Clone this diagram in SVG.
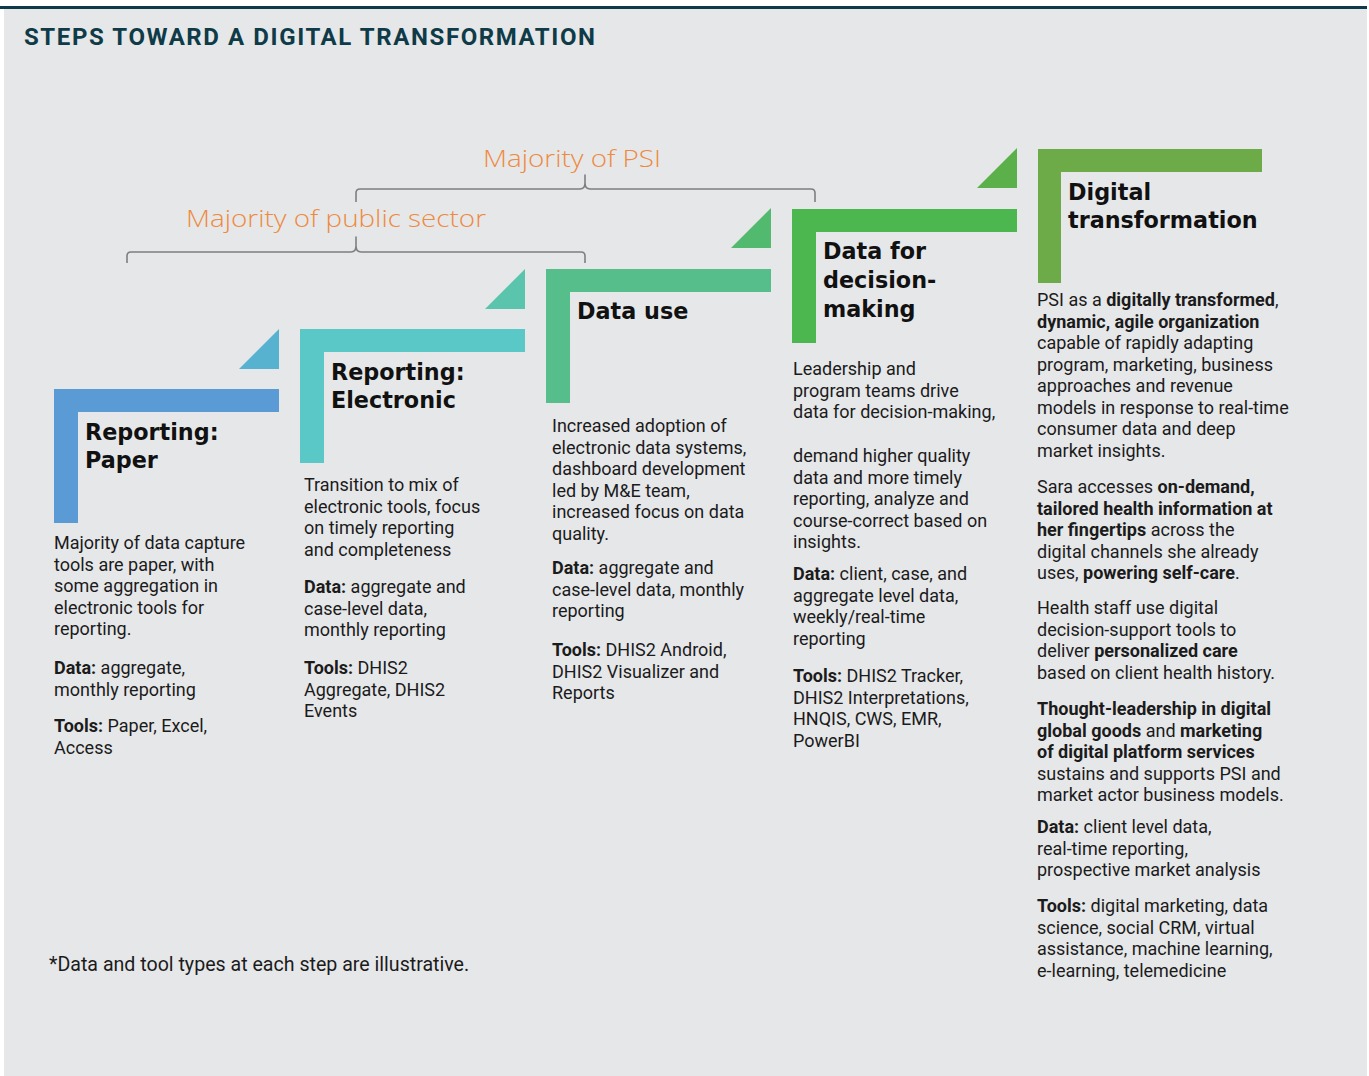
<svg xmlns="http://www.w3.org/2000/svg" width="1369" height="1076" viewBox="0 0 1369 1076">
  <style>
    .panel { fill: #E6E7E9; }
    .head { font-family: Roboto, "Liberation Sans", sans-serif; font-weight: 700; font-size: 24px; fill: #0E3B47; }
    .span-label { font-family: "Open Sans", "Liberation Sans", sans-serif; font-weight: 300; font-size: 24px; fill: #EE8A3E; }
    .brace { fill: none; stroke: #7F7F7F; stroke-width: 1.6; stroke-linejoin: round; }
    .title { font-family: "DejaVu Sans", "Liberation Sans", sans-serif; font-weight: 700; font-size: 22.3px; fill: #111111; }
    .body { font-family: Roboto, "Liberation Sans", sans-serif; font-size: 18px; fill: #1B1B1B; }
    .note { font-family: Roboto, "Liberation Sans", sans-serif; font-size: 19.6px; fill: #1B1B1B; }
    .b { font-weight: 700; }
  </style>

  <!-- backdrop and top rule -->
  <rect x="0" y="0" width="1369" height="1076" fill="#FFFFFF"/>
  <rect class="panel" x="4" y="9" width="1363" height="1067"/>
  <rect x="0" y="6" width="1367" height="3" fill="#0E3B47"/>

  <text class="head" x="24" y="45" textLength="571" lengthAdjust="spacing">STEPS TOWARD A DIGITAL TRANSFORMATION</text>

  <!-- span braces with their labels -->
  <g id="brackets">
    <path class="brace" d="M356,202 V193 Q356,189 360,189 H580 Q585,189 585,183 V175 V183 Q585,189 590,189 H811 Q815,189 815,193 V202"/>
    <path class="brace" d="M127,263 V256 Q127,252 131,252 H351 Q356,252 356,246 V237 V246 Q356,252 361,252 H581 Q585,252 585,256 V263"/>
    <text class="span-label" x="483" y="167" textLength="178" lengthAdjust="spacingAndGlyphs">Majority of PSI</text>
    <text class="span-label" x="186" y="227" textLength="300" lengthAdjust="spacingAndGlyphs">Majority of public sector</text>
  </g>

  <!-- Step 1 -->
  <g id="step-reporting-paper">
    <polygon points="279,329 279,369 239,369" fill="#57B2CF"/>
    <path d="M54,389 h225 v23 h-201 v111 h-24 z" fill="#5B9BD5"/>
    <text class="title" x="85" y="440">Reporting:</text>
    <text class="title" x="85" y="468">Paper</text>
    <text class="body">
      <tspan x="54" y="549">Majority of data capture</tspan>
      <tspan x="54" y="570.5">tools are paper, with</tspan>
      <tspan x="54" y="592">some aggregation in</tspan>
      <tspan x="54" y="613.5">electronic tools for</tspan>
      <tspan x="54" y="635">reporting.</tspan>
      <tspan x="54" y="674"><tspan class="b">Data:</tspan> aggregate,</tspan>
      <tspan x="54" y="695.5">monthly reporting</tspan>
      <tspan x="54" y="732"><tspan class="b">Tools:</tspan> Paper, Excel,</tspan>
      <tspan x="54" y="753.5">Access</tspan>
    </text>
  </g>

  <!-- Step 2 -->
  <g id="step-reporting-electronic">
    <polygon points="525,269 525,309 485,309" fill="#5BC4AC"/>
    <path d="M300,329 h225 v23 h-201 v111 h-24 z" fill="#5BC8C8"/>
    <text class="title" x="331" y="380">Reporting:</text>
    <text class="title" x="331" y="408">Electronic</text>
    <text class="body">
      <tspan x="304" y="491">Transition to mix of</tspan>
      <tspan x="304" y="512.5">electronic tools, focus</tspan>
      <tspan x="304" y="534">on timely reporting</tspan>
      <tspan x="304" y="555.5">and completeness</tspan>
      <tspan x="304" y="593"><tspan class="b">Data:</tspan> aggregate and</tspan>
      <tspan x="304" y="614.5">case-level data,</tspan>
      <tspan x="304" y="636">monthly reporting</tspan>
      <tspan x="304" y="674"><tspan class="b">Tools:</tspan> DHIS2</tspan>
      <tspan x="304" y="695.5">Aggregate, DHIS2</tspan>
      <tspan x="304" y="717">Events</tspan>
    </text>
  </g>

  <!-- Step 3 -->
  <g id="step-data-use">
    <polygon points="771,208 771,248 731,248" fill="#52BA6E"/>
    <path d="M546,269 h225 v23 h-201 v111 h-24 z" fill="#55BE8B"/>
    <text class="title" x="577" y="319">Data use</text>
    <text class="body">
      <tspan x="552" y="432">Increased adoption of</tspan>
      <tspan x="552" y="453.5">electronic data systems,</tspan>
      <tspan x="552" y="475">dashboard development</tspan>
      <tspan x="552" y="496.5">led by M&amp;E team,</tspan>
      <tspan x="552" y="518">increased focus on data</tspan>
      <tspan x="552" y="539.5">quality.</tspan>
      <tspan x="552" y="574"><tspan class="b">Data:</tspan> aggregate and</tspan>
      <tspan x="552" y="595.5">case-level data, monthly</tspan>
      <tspan x="552" y="617">reporting</tspan>
      <tspan x="552" y="656"><tspan class="b">Tools:</tspan> DHIS2 Android,</tspan>
      <tspan x="552" y="677.5">DHIS2 Visualizer and</tspan>
      <tspan x="552" y="699">Reports</tspan>
    </text>
  </g>

  <!-- Step 4 -->
  <g id="step-data-for-decision-making">
    <polygon points="1017,148 1017,188 977,188" fill="#5BB04A"/>
    <path d="M792,209 h225 v23 h-201 v111 h-24 z" fill="#4DB74F"/>
    <text class="title" x="823" y="259">Data for</text>
    <text class="title" x="823" y="288">decision-</text>
    <text class="title" x="823" y="317">making</text>
    <text class="body">
      <tspan x="793" y="375">Leadership and</tspan>
      <tspan x="793" y="396.5">program teams drive</tspan>
      <tspan x="793" y="418">data for decision-making,</tspan>
      <tspan x="793" y="462">demand higher quality</tspan>
      <tspan x="793" y="483.5">data and more timely</tspan>
      <tspan x="793" y="505">reporting, analyze and</tspan>
      <tspan x="793" y="526.5">course-correct based on</tspan>
      <tspan x="793" y="548">insights.</tspan>
      <tspan x="793" y="580"><tspan class="b">Data:</tspan> client, case, and</tspan>
      <tspan x="793" y="601.5">aggregate level data,</tspan>
      <tspan x="793" y="623">weekly/real-time</tspan>
      <tspan x="793" y="644.5">reporting</tspan>
      <tspan x="793" y="682"><tspan class="b">Tools:</tspan> DHIS2 Tracker,</tspan>
      <tspan x="793" y="703.5">DHIS2 Interpretations,</tspan>
      <tspan x="793" y="725">HNQIS, CWS, EMR,</tspan>
      <tspan x="793" y="746.5">PowerBI</tspan>
    </text>
  </g>

  <!-- Step 5 -->
  <g id="step-digital-transformation">
    <path d="M1038,149 h224 v23 h-201 v111 h-23 z" fill="#6DAA48"/>
    <text class="title" x="1068" y="200">Digital</text>
    <text class="title" x="1068" y="228">transformation</text>
    <text class="body">
      <tspan x="1037" y="306">PSI as a <tspan class="b">digitally transformed</tspan>,</tspan>
      <tspan x="1037" y="327.5" class="b">dynamic, agile organization</tspan>
      <tspan x="1037" y="349">capable of rapidly adapting</tspan>
      <tspan x="1037" y="370.5">program, marketing, business</tspan>
      <tspan x="1037" y="392">approaches and revenue</tspan>
      <tspan x="1037" y="413.5">models in response to real-time</tspan>
      <tspan x="1037" y="435">consumer data and deep</tspan>
      <tspan x="1037" y="456.5">market insights.</tspan>
      <tspan x="1037" y="493">Sara accesses <tspan class="b">on-demand,</tspan></tspan>
      <tspan x="1037" y="514.5" class="b">tailored health information at</tspan>
      <tspan x="1037" y="536"><tspan class="b">her fingertips</tspan> across the</tspan>
      <tspan x="1037" y="557.5">digital channels she already</tspan>
      <tspan x="1037" y="579">uses, <tspan class="b">powering self-care</tspan>.</tspan>
      <tspan x="1037" y="614">Health staff use digital</tspan>
      <tspan x="1037" y="635.5">decision-support tools to</tspan>
      <tspan x="1037" y="657">deliver <tspan class="b">personalized care</tspan></tspan>
      <tspan x="1037" y="678.5">based on client health history.</tspan>
      <tspan x="1037" y="715" class="b">Thought-leadership in digital</tspan>
      <tspan x="1037" y="736.5"><tspan class="b">global goods</tspan> and <tspan class="b">marketing</tspan></tspan>
      <tspan x="1037" y="758" class="b">of digital platform services</tspan>
      <tspan x="1037" y="779.5">sustains and supports PSI and</tspan>
      <tspan x="1037" y="801">market actor business models.</tspan>
      <tspan x="1037" y="833"><tspan class="b">Data:</tspan> client level data,</tspan>
      <tspan x="1037" y="854.5">real-time reporting,</tspan>
      <tspan x="1037" y="876">prospective market analysis</tspan>
      <tspan x="1037" y="912"><tspan class="b">Tools:</tspan> digital marketing, data</tspan>
      <tspan x="1037" y="933.5">science, social CRM, virtual</tspan>
      <tspan x="1037" y="955">assistance, machine learning,</tspan>
      <tspan x="1037" y="976.5">e-learning, telemedicine</tspan>
    </text>
  </g>

  <text class="note" x="49" y="971">*Data and tool types at each step are illustrative.</text>
</svg>
